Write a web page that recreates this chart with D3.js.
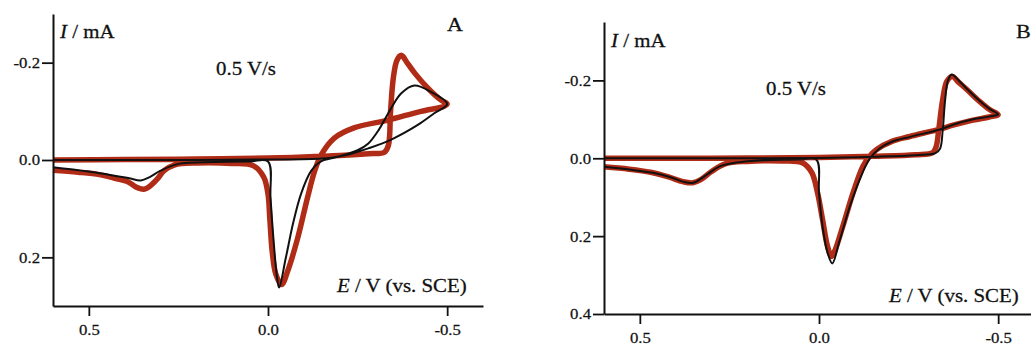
<!DOCTYPE html>
<html>
<head>
<meta charset="utf-8">
<script src="https://cdn.jsdelivr.net/npm/d3@7"></script>
<style>
  body { margin: 0; background: #fff; }
  text { font-family: "Liberation Serif", "Times New Roman", serif; fill: #111; stroke: #111; stroke-width: 0.25px; }
</style>
</head>
<body>
<svg id="chart" width="1031" height="345"></svg>
<script>
// tick values
const xTicks = [0.5, 0, -0.5];
const yTicksA = [-0.2, 0, 0.2];
const yTicksB = [-0.2, 0, 0.2, 0.4];

// [E (V vs SCE), I (mA)], forward scan then return scan
const redA = [
  [0.6, 0.0], [0.4, -0.001], [0.2, -0.002], [0.0, -0.004], [-0.1, -0.006], [-0.2, -0.009],
  [-0.28, -0.013], [-0.325, -0.016], [-0.336, -0.03], [-0.342, -0.1], [-0.35, -0.17],
  [-0.36, -0.205], [-0.372, -0.215], [-0.39, -0.198], [-0.41, -0.178], [-0.447, -0.147],
  [-0.483, -0.123], [-0.5, -0.115],
  [-0.49, -0.11], [-0.427, -0.1], [-0.335, -0.082], [-0.24, -0.066], [-0.185, -0.045],
  [-0.148, -0.01], [-0.13, 0.023], [-0.11, 0.078], [-0.083, 0.16], [-0.055, 0.228],
  [-0.038, 0.256], [-0.022, 0.235], [-0.012, 0.19], [-0.005, 0.12], [0.0, 0.07],
  [0.012, 0.035], [0.04, 0.012], [0.1, 0.007], [0.2, 0.006], [0.26, 0.01], [0.29, 0.022],
  [0.31, 0.04], [0.33, 0.054], [0.346, 0.06], [0.37, 0.055], [0.39, 0.045], [0.43, 0.037],
  [0.47, 0.03], [0.53, 0.025], [0.6, 0.021]
];
const blackA = [
  [0.6, 0.0], [0.3, 0.0], [0.0, -0.001], [-0.15, -0.003], [-0.2, -0.008], [-0.25, -0.02],
  [-0.28, -0.034], [-0.31, -0.063], [-0.344, -0.107], [-0.372, -0.137], [-0.408, -0.153],
  [-0.455, -0.14], [-0.5, -0.115],
  [-0.464, -0.096], [-0.418, -0.072], [-0.344, -0.042], [-0.28, -0.024], [-0.232, -0.013],
  [-0.186, -0.005], [-0.148, 0.003], [-0.12, 0.023], [-0.092, 0.07], [-0.07, 0.13],
  [-0.05, 0.2], [-0.031, 0.262], [-0.025, 0.24], [-0.015, 0.16], [-0.007, 0.078],
  [0.0, 0.003], [0.05, 0.003], [0.15, 0.004], [0.25, 0.008], [0.3, 0.022], [0.33, 0.035],
  [0.355, 0.042], [0.39, 0.037], [0.47, 0.027], [0.6, 0.015]
];
const redB = [
  [0.6, 0.0], [0.3, 0.0], [0.0, -0.002], [-0.15, -0.005], [-0.27, -0.009], [-0.318, -0.015],
  [-0.327, -0.03], [-0.335, -0.08], [-0.345, -0.15], [-0.357, -0.198], [-0.372, -0.21],
  [-0.39, -0.195], [-0.411, -0.178], [-0.448, -0.146], [-0.476, -0.125], [-0.5, -0.112],
  [-0.475, -0.106], [-0.43, -0.098], [-0.374, -0.085], [-0.337, -0.075], [-0.254, -0.056],
  [-0.205, -0.044], [-0.16, -0.022], [-0.14, -0.004], [-0.122, 0.022], [-0.095, 0.089],
  [-0.066, 0.176], [-0.044, 0.238], [-0.035, 0.252], [-0.024, 0.227], [-0.01, 0.158],
  [0.004, 0.089], [0.02, 0.037], [0.045, 0.012], [0.1, 0.007], [0.2, 0.008], [0.26, 0.014],
  [0.3, 0.034], [0.33, 0.055], [0.352, 0.063], [0.38, 0.06], [0.42, 0.048], [0.47, 0.036],
  [0.53, 0.028], [0.6, 0.022]
];
const blackB = [
  [0.6, 0.0], [0.3, 0.0], [0.0, -0.001], [-0.15, -0.004], [-0.27, -0.008], [-0.325, -0.013],
  [-0.338, -0.025], [-0.345, -0.07], [-0.352, -0.15], [-0.36, -0.2], [-0.37, -0.215],
  [-0.39, -0.2], [-0.411, -0.18], [-0.448, -0.148], [-0.476, -0.127], [-0.5, -0.113],
  [-0.475, -0.107], [-0.43, -0.1], [-0.374, -0.086], [-0.337, -0.074], [-0.254, -0.055],
  [-0.205, -0.043], [-0.169, -0.025], [-0.141, 0.002], [-0.113, 0.056], [-0.086, 0.124],
  [-0.058, 0.21], [-0.037, 0.27], [-0.024, 0.243], [-0.01, 0.176], [0.0, 0.089],
  [0.007, 0.004], [0.05, 0.003], [0.15, 0.005], [0.23, 0.011], [0.28, 0.022], [0.31, 0.04],
  [0.351, 0.063], [0.38, 0.06], [0.41, 0.05], [0.46, 0.038], [0.52, 0.03], [0.6, 0.022]
];

const svg = d3.select('#chart');
const SX = 1.16;   // the original figure is stretched sideways

function label(x, y, parts, size) {
  const t = svg.append('text')
    .attr('transform', `translate(${x},${y}) scale(${SX},1)`)
    .style('font-size', size + 'px');
  parts.forEach(p => {
    t.append('tspan').text(p[0]).style('font-style', p[1] ? 'italic' : 'normal');
  });
}

function drawPanel(p) {
  const x = d3.scaleLinear().domain([0.6, -0.6]).range(p.xRange);
  const y = d3.scaleLinear().domain(p.yDomain).range(p.yRange);
  const fmt = d => d.toFixed(1);

  const line = d3.line()
    .x(d => x(d[0]))
    .y(d => y(d[1]))
    .curve(d3.curveCatmullRom.alpha(0.5));

  const g = svg.append('g');

  g.append('path')
    .datum(p.red)
    .attr('d', line)
    .attr('fill', 'none')
    .attr('stroke', '#b02c16')
    .attr('stroke-width', 5.5)
    .attr('stroke-linejoin', 'round');

  g.append('path')
    .datum(p.black)
    .attr('d', line)
    .attr('fill', 'none')
    .attr('stroke', '#111')
    .attr('stroke-width', 2)
    .attr('stroke-linejoin', 'round');

  const xAxis = g.append('g')
    .attr('transform', `translate(0,${p.yRange[1]})`)
    .call(d3.axisBottom(x).tickValues(xTicks).tickFormat(fmt)
      .tickSize(10).tickSizeOuter(0).tickPadding(8));

  const yAxis = g.append('g')
    .attr('transform', `translate(${p.xRange[0]},0)`)
    .call(d3.axisLeft(y).tickValues(p.yTicks).tickFormat(fmt)
      .tickSize(11).tickSizeOuter(0).tickPadding(2));

  [xAxis, yAxis].forEach(a => {
    a.select('.domain').attr('stroke', '#111').attr('stroke-width', 2);
    a.selectAll('.tick line').attr('stroke', '#111').attr('stroke-width', 1.8);
    a.selectAll('.tick text')
      .attr('fill', '#111')
      .style('font-family', '"Liberation Serif", "Times New Roman", serif')
      .style('font-size', '15.5px');
  });
  xAxis.selectAll('.tick text').attr('transform', 'scale(1.08,1)');
  yAxis.selectAll('.tick text').attr('x', -13 / 1.08).attr('transform', 'scale(1.08,1)');
}

drawPanel({
  xRange: [53, 483], yDomain: [-0.3, 0.3], yRange: [14, 306],
  yTicks: yTicksA, red: redA, black: blackA
});
drawPanel({
  xRange: [604, 1034], yDomain: [-0.35, 0.4], yRange: [22, 314],
  yTicks: yTicksB, red: redB, black: blackB
});

// panel A labels
label(60, 38, [['I', true], [' / mA', false]], 18);
label(447, 31, [['A', false]], 19);
label(216, 75, [['0.5 V/s', false]], 18);
label(337, 292, [['E', true], [' / V (vs. SCE)', false]], 18);

// panel B labels
label(611, 47, [['I', true], [' / mA', false]], 18);
label(1016, 38, [['B', false]], 19);
label(766, 95, [['0.5 V/s', false]], 18);
label(889, 302, [['E', true], [' / V (vs. SCE)', false]], 18);
</script>
</body>
</html>
